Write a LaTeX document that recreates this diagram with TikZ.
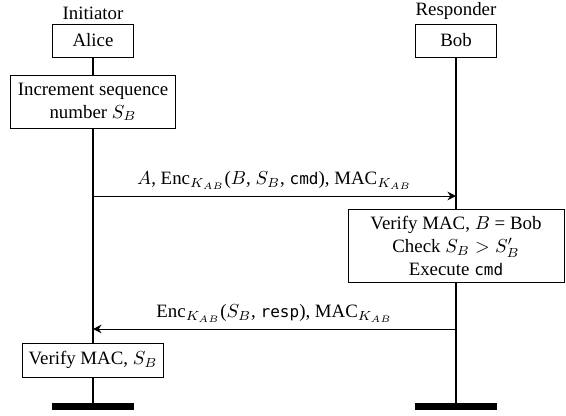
\documentclass[tikz,border=0pt]{standalone}
\usepackage{fontspec}
\setmainfont{Liberation Serif}
\setmonofont{DejaVu Sans Mono}[Scale=0.85]
\usetikzlibrary{arrows.meta,positioning}
\tikzset{
  actor/.style={draw, line width=0.5pt, fill=white, align=center, minimum width=43pt, minimum height=17.5pt},
  act/.style={draw, line width=0.5pt, fill=white, align=center, inner sep=3pt},
  role/.style={inner sep=2pt},
  life/.style={line width=1.1pt},
  msg/.style={-{Stealth[length=4.5pt, width=4.5pt, inset=1.5pt]}, line width=0.5pt},
  stopbar/.style={fill=black, minimum width=43.5pt, minimum height=3.7pt, inner sep=0pt}
}

\begin{document}
\begin{tikzpicture}[x=0.53pt, y=-0.53pt]
  \useasboundingbox (0,0) rectangle (566,415);

  % participants
  \node[actor] (alice) at (93,40.5) {Alice};
  \node[actor] (bob) at (456,40.5) {Bob};
  \node[role, above=0pt of alice] (initiator) {Initiator};
  \node[role, above=0pt of bob] (responder) {Responder};

  % actions
  \node[act, minimum width=87pt, minimum height=27.6pt] (incr) at (93,102) {Increment sequence\\number $S_B$};
  \node[act, minimum width=114.5pt, minimum height=39pt] (check) at (456,246) {Verify MAC, $B$ = Bob\\Check $S_B > S'_B$\\Execute \texttt{cmd}};
  \node[act, minimum width=73.7pt, minimum height=18pt] (verify) at (93,360) {Verify MAC, $S_B$};

  % ends
  \node[stopbar] (aliceend) at (93,406.5) {};
  \node[stopbar] (bobend) at (456,406.5) {};

  % lifelines
  \draw[life] (alice) -- (incr);
  \draw[life] (incr) -- (verify);
  \draw[life] (verify) -- (aliceend);
  \draw[life] (bob) -- (check);
  \draw[life] (check) -- (bobend);

  % messages
  \coordinate (req1) at (93,196);
  \coordinate (req2) at (456,196);
  \coordinate (rsp1) at (456,329);
  \coordinate (rsp2) at (93,329);
  \draw[msg] (req1) -- node[above]{$A$, Enc$_{K_{AB}}$($B$, $S_B$, \texttt{cmd}), MAC$_{K_{AB}}$} (req2);
  \draw[msg] (rsp1) -- node[above]{Enc$_{K_{AB}}$($S_B$, \texttt{resp}), MAC$_{K_{AB}}$} (rsp2);
\end{tikzpicture}
\end{document}
